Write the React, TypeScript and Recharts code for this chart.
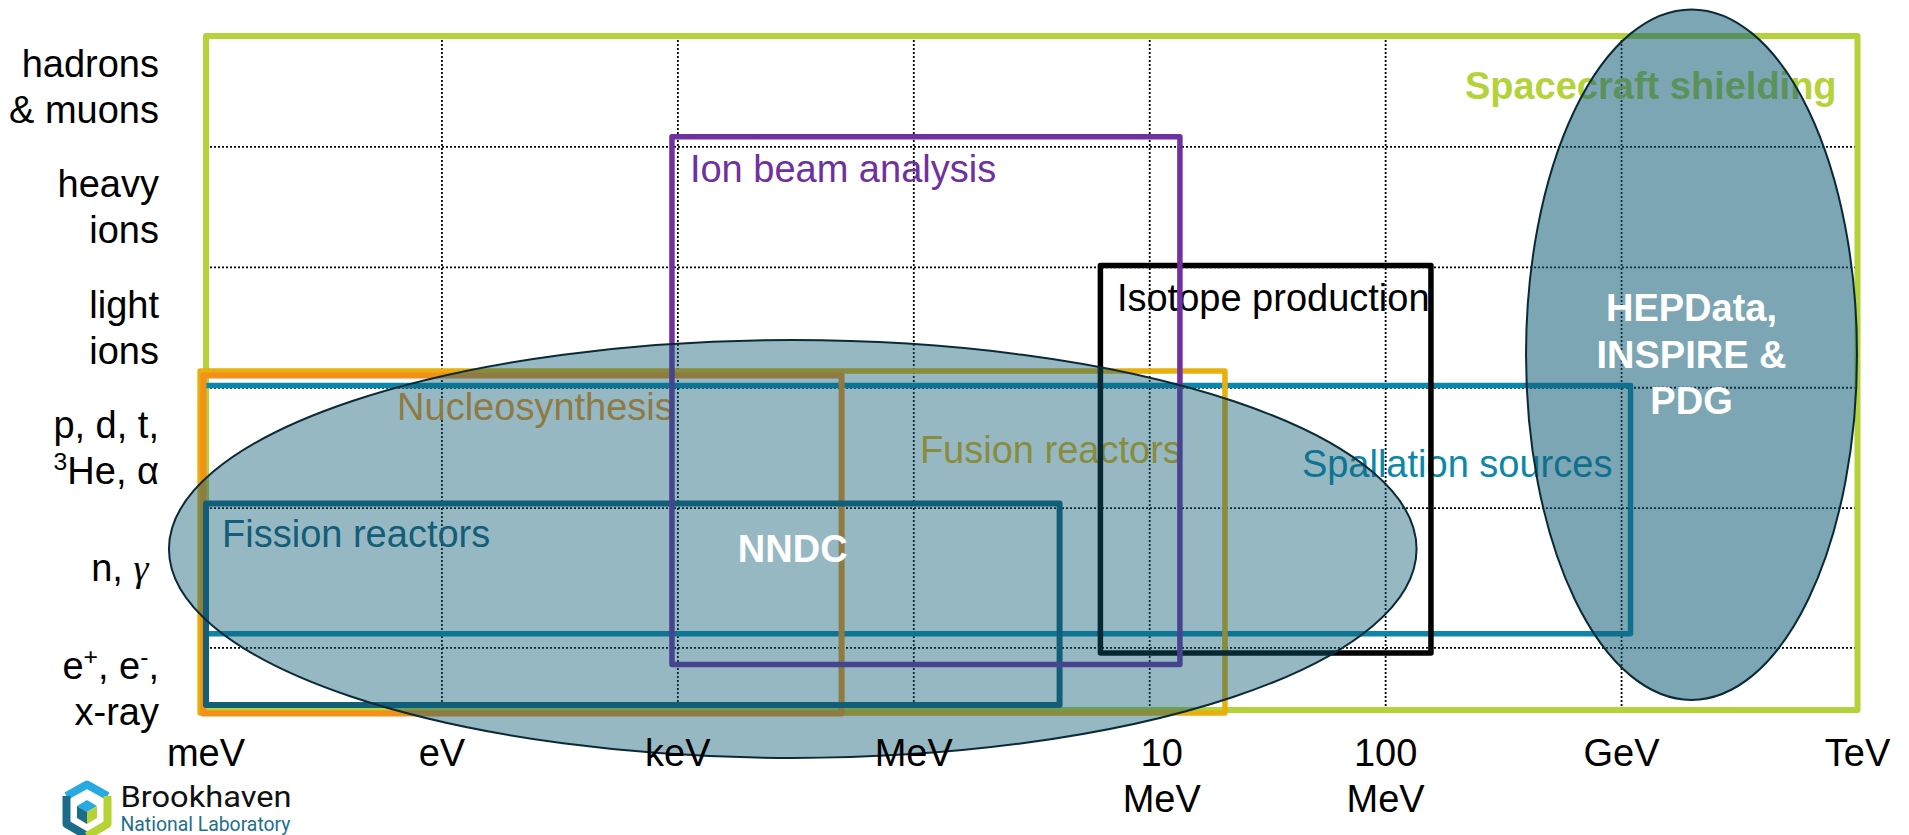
import React from "react";
import { ComposedChart, XAxis, YAxis, ReferenceArea, ReferenceLine } from "recharts";

// ---------- axes ----------
const ENERGY_TICKS = [0, 1, 2, 3, 4, 5, 6, 7];
const ENERGY_LABELS = ["meV", "eV", "keV", "MeV", "10\nMeV", "100\nMeV", "GeV", "TeV"];
const ENERGY_GRID = [1, 2, 3, 4, 5, 6];

const PARTICLE_TICKS = [0, 1, 2, 3, 4, 5];
const PARTICLE_LABELS = [
  "e^+, e^-,\nx-ray",
  "n, _γ\u00A0",
  "p, d, t,\n^3He, α",
  "light\nions",
  "heavy\nions",
  "hadrons\n& muons",
];
const PARTICLE_GRID = [0.34, 1.5, 2.5, 3.5, 4.5];

// ---------- application domains (rectangles, in energy / particle units) ----------
// listed in drawing order
const APP_NAMES = [
  "Spacecraft shielding",
  "Spallation sources",
  "Fusion reactors",
  "Nucleosynthesis",
  "Fission reactors",
  "Isotope production",
  "Ion beam analysis",
];
const APP_E_FROM = [0, -0.013, -0.025, -0.011, 0, 3.791, 1.975];
const APP_E_TO = [7, 6.038, 4.319, 2.694, 3.618, 5.192, 4.128];
const APP_P_FROM = [-0.175, 0.459, -0.2, -0.205, -0.133, 0.299, 0.203];
const APP_P_TO = [5.42, 2.519, 2.639, 2.602, 1.539, 3.515, 4.583];
const APP_LABEL_E = [5.336, 4.645, 3.026, 0.81, 0.068, 3.861, 2.051];
const APP_LABEL_P = [4.894, 1.759, 1.876, 2.232, 1.181, 3.139, 4.21];

// ---------- databases (ellipses) ----------
const DB_NAMES = ["NNDC", "HEPData,\nINSPIRE &\nPDG"];
const DB_E_FROM = [-0.157, 5.595];
const DB_E_TO = [5.131, 6.998];
const DB_P_FROM = [-0.573, -0.091];
const DB_P_TO = [2.896, 5.641];

// ---------- styles ----------
const FONT = "'Liberation Sans', Arial, Helvetica, sans-serif";
const FS = 38;
const APP_COLORS = ["#B4D33B", "#0C87A9", "#E8B00C", "#F39019", "#155E78", "#000000", "#7030A0"];
const APP_STROKE = [6, 5.5, 5.5, 6, 6, 5.5, 5.5];
const APP_BOLD = [true, false, false, false, false, false, false];
const DB_FILL = "#115D77";
const DB_OPACITY = [0.44, 0.55];
const ENERGY_LABEL_DX: Record<number, number> = { 4: 12 };

function RichLine({ text, size }: { text: string; size: number }) {
  const nodes: React.ReactNode[] = [];
  let pendingDy = 0;
  let buf = "";
  let key = 0;
  const flush = () => {
    if (buf) {
      nodes.push(
        <tspan key={key++} dy={pendingDy || undefined}>
          {buf}
        </tspan>
      );
      pendingDy = 0;
      buf = "";
    }
  };
  for (let i = 0; i < text.length; i++) {
    const c = text[i];
    if ((c === "^" || c === "_") && i + 1 < text.length) {
      flush();
      const ch = text[++i];
      if (c === "^") {
        const shift = size * 0.36;
        nodes.push(
          <tspan key={key++} dy={pendingDy - shift} fontSize={size * 0.65}>
            {ch}
          </tspan>
        );
        pendingDy = shift;
      } else {
        nodes.push(
          <tspan key={key++} dy={pendingDy || undefined} fontStyle="italic" fontFamily="'Liberation Serif', serif">
            {ch}
          </tspan>
        );
        pendingDy = 0;
      }
    } else buf += c;
  }
  flush();
  return <>{nodes}</>;
}

const ParticleTick = (props: any) => {
  const { x, y, payload } = props;
  const idx = PARTICLE_TICKS.indexOf(payload.value);
  if (idx < 0) return null;
  const lines = PARTICLE_LABELS[idx].split("\n");
  const lh = 46;
  return (
    <g>
      {lines.map((ln, i) => (
        <text
          key={i}
          x={x - 47}
          y={y + (i - (lines.length - 1) / 2) * lh + 13}
          textAnchor="end"
          fontSize={FS}
          fontFamily={FONT}
          fill="#000"
        >
          <RichLine text={ln} size={FS} />
        </text>
      ))}
    </g>
  );
};

const EnergyTick = (props: any) => {
  const { x, y, payload } = props;
  const idx = ENERGY_TICKS.indexOf(payload.value);
  if (idx < 0) return null;
  const lines = ENERGY_LABELS[idx].split("\n");
  const dx = ENERGY_LABEL_DX[idx] || 0;
  return (
    <g>
      {lines.map((ln, i) => (
        <text key={i} x={x + dx} y={y + 56 + i * 46} textAnchor="middle" fontSize={FS} fontFamily={FONT} fill="#000">
          {ln}
        </text>
      ))}
    </g>
  );
};

const makeAppShape = (i: number) => (p: any) => {
  const { x, y, width, height } = p;
  const e0 = Math.min(APP_E_FROM[i], APP_E_TO[i]);
  const e1 = Math.max(APP_E_FROM[i], APP_E_TO[i]);
  const p0 = Math.min(APP_P_FROM[i], APP_P_TO[i]);
  const p1 = Math.max(APP_P_FROM[i], APP_P_TO[i]);
  const lx = x + ((APP_LABEL_E[i] - e0) / (e1 - e0)) * width;
  const ly = y + ((p1 - APP_LABEL_P[i]) / (p1 - p0)) * height;
  return (
    <g>
      <rect
        x={x}
        y={y}
        width={width}
        height={height}
        fill="none"
        stroke={APP_COLORS[i]}
        strokeWidth={APP_STROKE[i]}
        strokeLinejoin="round"
      />
      <text
        x={lx}
        y={ly}
        fontSize={FS}
        fontFamily={FONT}
        fontWeight={APP_BOLD[i] ? 700 : 400}
        fill={APP_COLORS[i]}
      >
        {APP_NAMES[i]}
      </text>
    </g>
  );
};

const makeDbShape = (i: number) => (p: any) => {
  const { x, y, width, height } = p;
  const cx = x + width / 2;
  const cy = y + height / 2;
  const lines = DB_NAMES[i].split("\n");
  return (
    <g>
      <ellipse
        cx={cx}
        cy={cy}
        rx={width / 2}
        ry={height / 2}
        fill={DB_FILL}
        fillOpacity={DB_OPACITY[i]}
        stroke="#0B2A36"
        strokeWidth={2}
      />
      {lines.map((ln, k) => (
        <text
          key={k}
          x={cx}
          y={cy + (k - (lines.length - 1) / 2) * 46.5 + 13}
          textAnchor="middle"
          fontSize={FS}
          fontWeight={700}
          fontFamily={FONT}
          fill="#FFFFFF"
        >
          {ln}
        </text>
      ))}
    </g>
  );
};

const Logo = () => (
  <svg width={240} height={55} style={{ position: "absolute", left: 54, top: 772 }}>
    <g strokeWidth={8} fill="none" strokeLinejoin="round">
      <path d="M4.5 16 L25 4.5 L45.5 16" stroke="#27AAE1" />
      <path d="M4.5 16 L4.5 44 L25 56" stroke="#1B6C8B" />
      <path d="M45.5 16 L45.5 44 L25 56" stroke="#B5D334" />
    </g>
    <path d="M25 20 L35 26 L25 32 L15 26 Z" fill="#27AAE1" />
    <path d="M15 26 L25 32 L25 44 L15 38 Z" fill="#1B6C8B" />
    <path d="M35 26 L25 32 L25 44 L35 38 Z" fill="#B5D334" />
    <text
      x={58.5}
      y={27}
      fontSize={29}
      fontFamily="Roboto, 'Liberation Sans', sans-serif"
      fill="#111"
      textLength={171}
      lengthAdjust="spacingAndGlyphs"
    >
      Brookhaven
    </text>
    <text
      x={58.5}
      y={51}
      fontSize={20}
      fontFamily="Roboto, 'Liberation Sans', sans-serif"
      fill="#1E6F8C"
      textLength={170}
      lengthAdjust="spacingAndGlyphs"
    >
      National Laboratory
    </text>
  </svg>
);

export default function App() {
  return (
    <div style={{ position: "relative", width: 1893, height: 827 }}>
      <style>{"body{margin-bottom:0}"}</style>
      <ComposedChart
        width={1893}
        height={819}
        data={[]}
        margin={{ top: 28, right: 43.5, bottom: 0, left: 0 }}
      >
        <XAxis
          type="number"
          dataKey="e"
          domain={[0, 7]}
          ticks={ENERGY_TICKS}
          interval={0}
          allowDataOverflow
          axisLine={false}
          tickLine={false}
          tickSize={0}
          tickMargin={0}
          height={117}
          tick={<EnergyTick />}
        />
        <YAxis
          type="number"
          dataKey="p"
          domain={[-0.175, 5.42]}
          ticks={PARTICLE_TICKS}
          interval={0}
          allowDataOverflow
          axisLine={false}
          tickLine={false}
          tickSize={0}
          tickMargin={0}
          width={198}
          tick={<ParticleTick />}
        />
        {ENERGY_GRID.map((v) => (
          <ReferenceLine
            key={"eg" + v}
            x={v}
            stroke="#000"
            strokeWidth={1.8}
            strokeDasharray="2 2"
            ifOverflow="visible"
            zIndex={50}
          />
        ))}
        {PARTICLE_GRID.map((v) => (
          <ReferenceLine
            key={"pg" + v}
            y={v}
            stroke="#000"
            strokeWidth={1.8}
            strokeDasharray="2 2"
            ifOverflow="visible"
            zIndex={50}
          />
        ))}
        {APP_NAMES.map((n, i) => (
          <ReferenceArea
            key={"app" + i}
            x1={APP_E_FROM[i]}
            x2={APP_E_TO[i]}
            y1={APP_P_FROM[i]}
            y2={APP_P_TO[i]}
            ifOverflow="visible"
            shape={makeAppShape(i)}
          />
        ))}
        {DB_NAMES.map((n, i) => (
          <ReferenceArea
            key={"db" + i}
            x1={DB_E_FROM[i]}
            x2={DB_E_TO[i]}
            y1={DB_P_FROM[i]}
            y2={DB_P_TO[i]}
            ifOverflow="visible"
            shape={makeDbShape(i)}
          />
        ))}
      </ComposedChart>
      <Logo />
    </div>
  );
}
